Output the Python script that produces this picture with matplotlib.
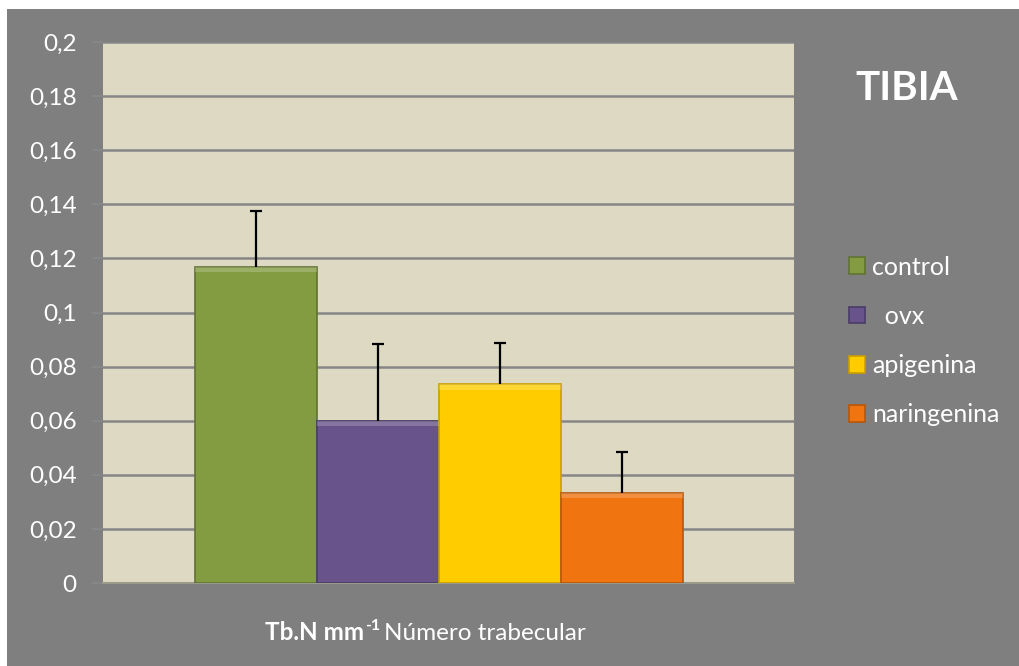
import matplotlib.pyplot as plt
from matplotlib.patches import Rectangle

# valores médios e desvio (Tb.N, tíbia)
grupos = ["control", "  ovx", "apigenina", "naringenina"]
medias = [0.1169, 0.0600, 0.0735, 0.0334]
erros = [0.0207, 0.0282, 0.0151, 0.0150]
cores = ["#839c41", "#68538a", "#ffcc00", "#f07510"]
bordas = ["#5f7330", "#4a3b66", "#c89f00", "#b85608"]
yticks = [0, 0.02, 0.04, 0.06, 0.08, 0.1, 0.12, 0.14, 0.16, 0.18, 0.2]

plt.rcParams["font.family"] = ["Lato", "DejaVu Sans"]

fig = plt.figure(figsize=(10.19, 6.66), dpi=100)
fig.patch.set_facecolor("white")
fig.patches.append(Rectangle((7 / 1019, 0), 1, 657 / 666, transform=fig.transFigure,
                             facecolor="#7f7f7f", edgecolor="none", zorder=-10))

ax = fig.add_axes([103 / 1019, 1 - 583 / 666, 691 / 1019, 541 / 666])
ax.set_facecolor("#ddd9c3")

x = list(range(len(grupos)))
bars = ax.bar(x, medias, width=1.0, color=cores, edgecolor=bordas, linewidth=1.2,
              label=grupos, zorder=3)

# barras de erro só para cima, com traço no topo
topos = [m + e for m, e in zip(medias, erros)]
ax.vlines(x, medias, topos, color="black", linewidth=1.6, zorder=4)
ax.hlines(topos, [i - 0.05 for i in x], [i + 0.05 for i in x], color="black",
          linewidth=1.6, zorder=4)

# faixa clara no topo de cada barra (efeito de chanfro)
for b in bars:
    ax.add_patch(Rectangle((b.get_x(), b.get_height() - 0.002), b.get_width(), 0.002,
                           facecolor="white", alpha=0.2, edgecolor="none", zorder=3.5))

ax.set_xlim(-1.254, 4.41)
ax.set_ylim(0, 0.2)
ax.set_yticks(yticks)
ax.set_yticklabels([f"{v:g}".replace(".", ",") for v in yticks])
ax.set_xticks([])
ax.yaxis.grid(True, color="#868686", linewidth=1.8, zorder=0)
ax.tick_params(axis="y", length=8, width=1.5, colors="#868686", labelcolor="white",
               labelsize=17.5, pad=11)
for s in ["top", "right", "left"]:
    ax.spines[s].set_visible(False)
ax.spines["bottom"].set_color("#9a9a8a")
ax.spines["bottom"].set_linewidth(1.5)

fig.text(907 / 1019, 1 - 88 / 666, "TIBIA", color="white", fontsize=29,
         fontweight="bold", ha="center", va="center")

leg = ax.legend(loc="center left", bbox_to_anchor=(826 / 1019, 1 - 341 / 666),
                bbox_transform=fig.transFigure, frameon=False, fontsize=18,
                labelcolor="white", handlelength=0.65, handleheight=0.65,
                handletextpad=0.3, labelspacing=1.05)

# rótulo do eixo x: parte em negrito, expoente e descrição
t1 = fig.text(265 / 1019, 1 - 633 / 666, "Tb.N mm", color="white", fontsize=17.5,
              fontweight="bold", ha="left", va="center")
t2 = ax.annotate("-1", xy=(1, 0.8), xycoords=t1, xytext=(0.5, 0),
                 textcoords="offset points", color="white", fontsize=11.5,
                 fontweight="bold", ha="left", va="center")
ax.annotate("Número trabecular", xy=(1, 0.5), xycoords=(t2, t1), xytext=(3, 0),
            textcoords="offset points", color="white", fontsize=17.5,
            ha="left", va="center")

fig.savefig("out.png", dpi=100, facecolor=fig.get_facecolor())
